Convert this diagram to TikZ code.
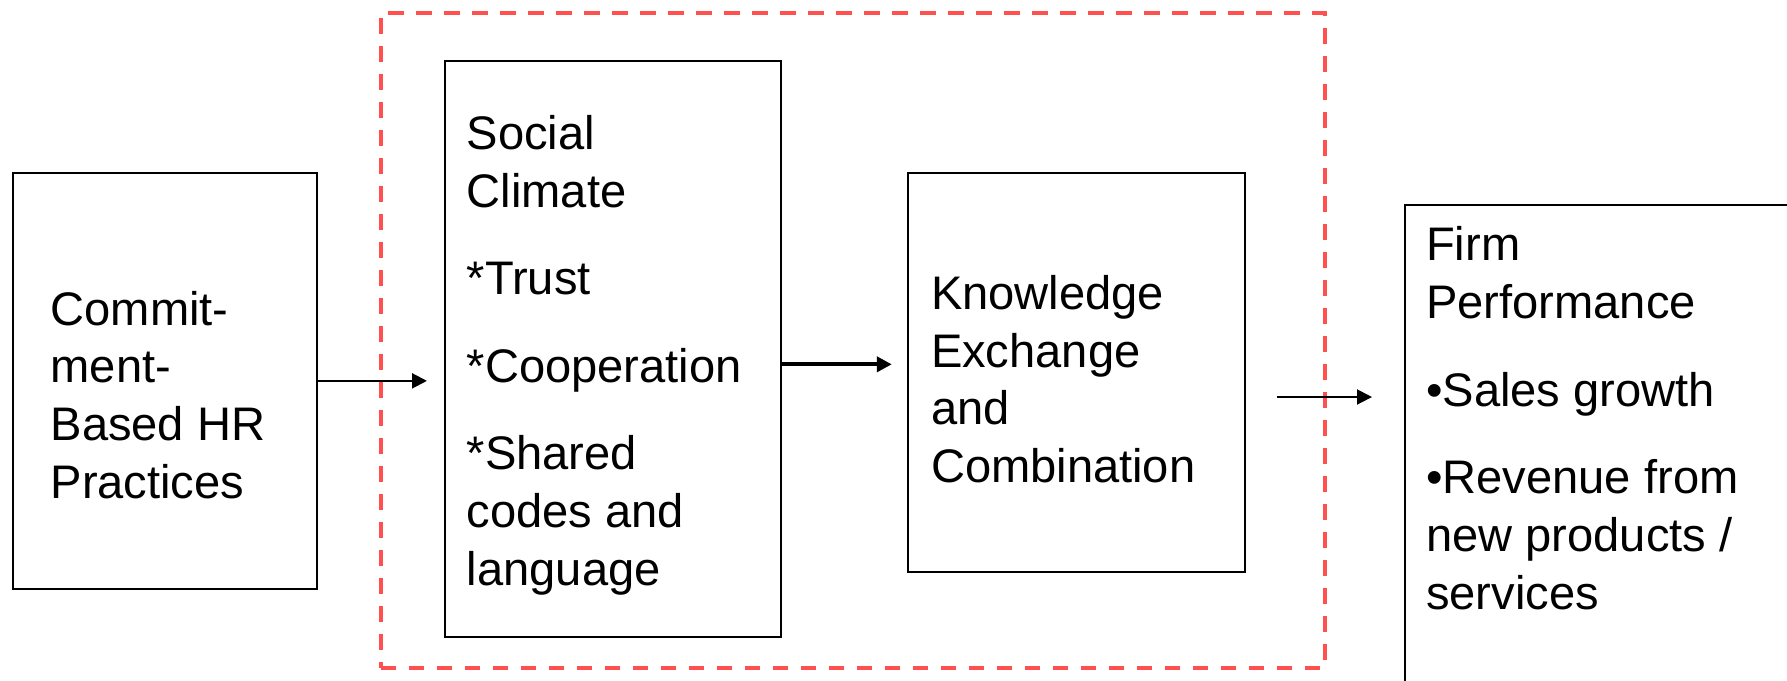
\documentclass[tikz,border=0pt]{standalone}
\usepackage{fontspec}
\setmainfont{Liberation Sans}
\usetikzlibrary{arrows.meta}
\definecolor{frame red}{RGB}{255,80,80}
\newcommand{\firsttop}{\rule{0pt}{0.36cm}}

\begin{document}
\begin{tikzpicture}[>={Triangle[length=0.15cm,width=0.15cm]},
	       box node/.style={rectangle, draw, line width=0.57pt, inner sep=0pt},
	       text node/.style={anchor=north west, inner sep=0pt, align=left,
	         font=\fontsize{13.4}{16.4}\selectfont},
	       link/.style={->, line width=0.57pt}]

	      \useasboundingbox (0,0) rectangle (17.87,-6.8);
	      \clip (0,0) rectangle (17.87,-6.8);

	      % dashed frame round the middle part
	      \node[draw=frame red, line width=1.05pt, dash pattern=on 0.157cm off 0.123cm,
	            minimum width=9.441cm, minimum height=6.549cm, inner sep=0pt] at (8.5275,-3.4035) (frame) {};

	      \node[box node, minimum width=3.041cm, minimum height=4.157cm] at (1.6475,-3.8085) (hr) {};
	      \node[box node, minimum width=3.36cm, minimum height=5.754cm] at (6.13,-3.489) (climate) {};
	      \node[box node, minimum width=3.367cm, minimum height=3.998cm] at (10.7665,-3.725) (knowledge) {};
	      \node[box node, minimum width=4.9cm, minimum height=5.9cm] at (16.5,-5.0) (firm) {};

	      \node[text node] at (0.499,-2.884) (hr text) {\firsttop Commit-\\ment-\\Based HR\\Practices};
	      \node[text node] at (4.661,-1.127) (climate text) {\firsttop Social\\Climate\\[0.30cm]
	        *Trust\\[0.30cm]*Cooperation\\[0.30cm]*Shared\\codes and\\language};
	      \node[text node] at (9.303,-2.728) (knowledge text) {\firsttop Knowledge\\Exchange\\and\\Combination};
	      \node[text node] at (14.255,-2.242) (firm text) {\firsttop Firm\\Performance\\[0.30cm]
	        •Sales growth\\[0.30cm]•Revenue from\\new products /\\services};

	      \draw[link, shorten >=0.17cm] (hr.east) -- (hr.east -| climate.west);
	      \draw[link, line width=1.2pt, shorten >=0.155cm]
	        ([yshift=-0.154cm]climate.east) -- ([yshift=-0.154cm]climate.east -| knowledge.west);
	      \draw[link, shorten <=0.31cm, shorten >=0.32cm]
	        ([yshift=-0.245cm]knowledge.east) -- ([yshift=-0.245cm]knowledge.east -| firm.west);

	    \end{tikzpicture}
\end{document}
